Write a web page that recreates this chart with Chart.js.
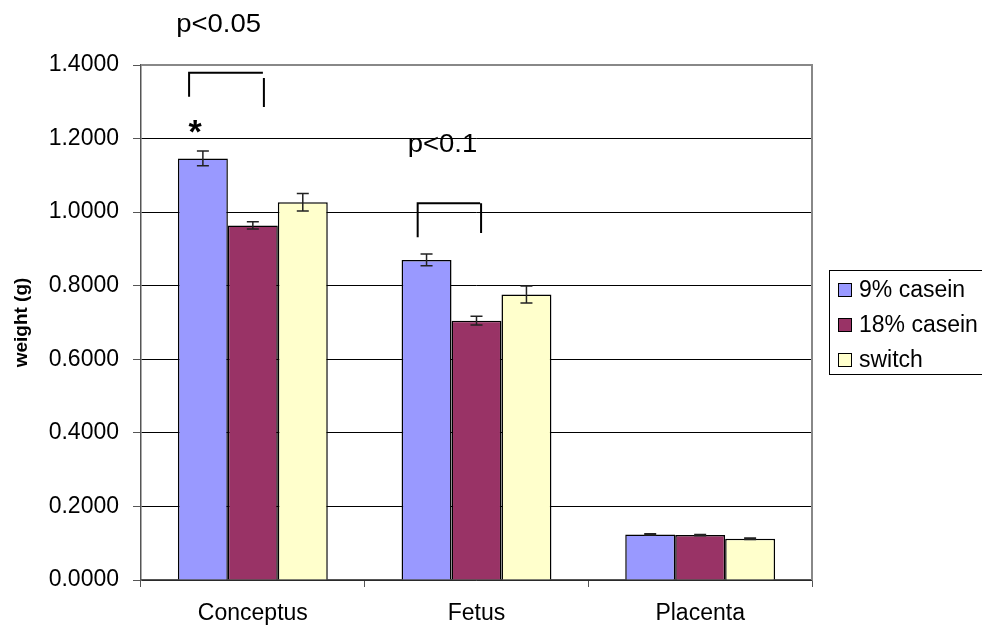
<!DOCTYPE html>
<html>
<head>
<meta charset="utf-8">
<script src="https://cdn.jsdelivr.net/npm/chart.js@4.4.0/dist/chart.umd.min.js"></script>
<style>
  html, body { margin: 0; padding: 0; background: #fff; }
  #wrap { width: 982px; height: 630px; }
</style>
</head>
<body>
<div id="wrap"><canvas id="myBarChart"></canvas></div>
<script>
// values
const categories = ['Conceptus', 'Fetus', 'Placenta'];
const seriesNames = ['9% casein', '18% casein', 'switch'];
const casein9 = [1.146, 0.870, 0.124];
const casein18 = [0.964, 0.705, 0.122];
const switchDiet = [1.027, 0.776, 0.112];
const err9 = [0.020, 0.016, 0.002];
const err18 = [0.010, 0.012, 0.002];
const errSwitch = [0.024, 0.023, 0.002];
const yTicks = [0, 0.2, 0.4, 0.6, 0.8, 1.0, 1.2, 1.4];

// significance marks: category index + offset (in category widths), y in data units
const brackets = [
  { cat: 0, x1: -0.285, x2: 0.045, top: 1.379, leftBottom: 1.314, rightTop: 1.365, rightBottom: 1.286 },
  { cat: 1, x1: -0.263, x2: 0.016, top: 1.024, leftBottom: 0.932, rightTop: 1.024, rightBottom: 0.943 }
];
const pLabels = [
  { cat: 0, dx: -0.153, y: 1.4905, text: 'p<0.05' },
  { cat: 1, dx: -0.152, y: 1.164, text: 'p<0.1' }
];
const stars = [{ cat: 0, dx: -0.258, y: 1.187, text: '*' }];

const fontFam = '"Liberation Sans", Arial, sans-serif';
const colors = ['#9999FF', '#993366', '#FFFFCC'];
const errs = [err9, err18, errSwitch];

const ctx = document.getElementById('myBarChart');

const data = {
  labels: categories,
  datasets: [casein9, casein18, switchDiet].map((vals, i) => ({
    label: seriesNames[i],
    data: vals,
    backgroundColor: colors[i],
    borderColor: '#000',
    borderWidth: 1.5,
    barPercentage: 1.0,
    categoryPercentage: 0.67
  }))
};

function catX(scale, cat, dx) {
  const w = (scale.right - scale.left) / categories.length;
  return scale.getPixelForValue(cat) + dx * w;
}

const extras = {
  id: 'extras',
  afterDatasetsDraw(chart) {
    const c = chart.ctx;
    const xs = chart.scales.x, ys = chart.scales.y;
    const area = chart.chartArea;
    c.save();
    // frame top / right
    c.strokeStyle = '#888';
    c.lineWidth = 2;
    c.beginPath();
    c.moveTo(area.left, area.top);
    c.lineTo(area.right, area.top);
    c.lineTo(area.right, area.bottom);
    c.stroke();

    // error bars
    c.strokeStyle = '#222';
    c.lineWidth = 1.5;
    chart.data.datasets.forEach((ds, i) => {
      const meta = chart.getDatasetMeta(i);
      meta.data.forEach((bar, j) => {
        const v = ds.data[j], e = errs[i][j];
        const yt = ys.getPixelForValue(v + e), yb = ys.getPixelForValue(v - e);
        c.beginPath();
        c.moveTo(bar.x, yt); c.lineTo(bar.x, yb);
        c.moveTo(bar.x - 6, yt); c.lineTo(bar.x + 6, yt);
        c.moveTo(bar.x - 6, yb); c.lineTo(bar.x + 6, yb);
        c.stroke();
      });
    });

    // brackets
    c.strokeStyle = '#000';
    c.lineWidth = 2;
    brackets.forEach(b => {
      const x1 = catX(xs, b.cat, b.x1), x2 = catX(xs, b.cat, b.x2);
      c.beginPath();
      c.moveTo(x1, ys.getPixelForValue(b.leftBottom));
      c.lineTo(x1, ys.getPixelForValue(b.top));
      c.lineTo(x2, ys.getPixelForValue(b.top));
      c.moveTo(x2 + 1, ys.getPixelForValue(b.rightTop));
      c.lineTo(x2 + 1, ys.getPixelForValue(b.rightBottom));
      c.stroke();
    });

    // p-value texts
    c.fillStyle = '#000';
    c.textAlign = 'center';
    c.textBaseline = 'alphabetic';
    pLabels.forEach(p => {
      const x = catX(xs, p.cat, p.dx), y = ys.getPixelForValue(p.y);
      c.save();
      c.translate(x, y);
      c.scale(1.1, 1);
      c.font = '25px ' + fontFam;
      c.fillText(p.text, 0, 0);
      c.restore();
    });
    stars.forEach(s => {
      c.font = 'bold 34px ' + fontFam;
      c.fillText(s.text, catX(xs, s.cat, s.dx), ys.getPixelForValue(s.y));
    });

    // legend
    c.lineWidth = 1;
    c.strokeStyle = '#000';
    c.fillStyle = '#fff';
    c.fillRect(829.5, 270.5, 160, 104);
    c.strokeRect(829.5, 270.5, 160, 104);
    c.font = '23px ' + fontFam;
    c.textAlign = 'left';
    chart.data.datasets.forEach((ds, i) => {
      const y = 283 + i * 35;
      c.fillStyle = ds.backgroundColor;
      c.fillRect(838.5, y + 0.5, 13, 13);
      c.strokeStyle = '#000';
      c.strokeRect(838.5, y + 0.5, 13, 13);
      c.fillStyle = '#000';
      c.fillText(ds.label, 859, y + 14);
    });
    c.restore();
  }
};

const myBarChart = new Chart(ctx, {
  type: 'bar',
  data: data,
  options: {
    responsive: true,
    maintainAspectRatio: false,
    animation: false,
    layout: { padding: { top: 65, right: 170, left: 0, bottom: 0 } },
    plugins: {
      legend: { display: false },
      tooltip: { enabled: false }
    },
    scales: {
      x: {
        afterFit: s => { s.height = 50; },
        grid: { offset: true, drawOnChartArea: false, color: '#555', tickLength: 7 },
        border: { color: '#555', width: 1.5 },
        ticks: { color: '#000', font: { family: fontFam, size: 23 }, padding: 13 }
      },
      y: {
        min: 0,
        max: 1.4,
        afterFit: s => { s.width = 141; },
        afterBuildTicks: s => { s.ticks = yTicks.map(v => ({ value: v })); },
        grid: { color: '#000', lineWidth: 1, tickLength: 8, tickColor: '#555' },
        border: { color: '#555', width: 1.5 },
        ticks: {
          color: '#000',
          padding: 14,
          font: { family: fontFam, size: 23 },
          callback: v => Number(v).toFixed(4)
        },
        title: {
          display: true,
          text: 'weight (g)',
          color: '#000',
          font: { family: fontFam, size: 19, weight: 'bold' },
          padding: { top: 10, bottom: 0 }
        }
      }
    }
  },
  plugins: [extras]
});
</script>
</body>
</html>
